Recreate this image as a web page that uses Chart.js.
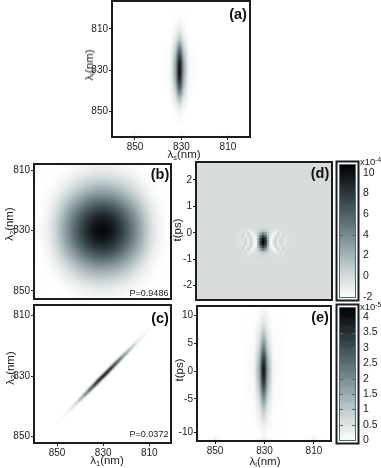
<!DOCTYPE html>
<html>
<head>
<meta charset="utf-8">
<script src="https://cdn.jsdelivr.net/npm/chart.js@4/dist/chart.umd.js"></script>
<style>
  body { margin: 0; background: #fff; width: 381px; height: 468px; overflow: hidden; position: relative; font-family: "Liberation Sans", Arial, sans-serif; color: #222; }
  canvas { position: absolute; }
  .t { position: absolute; transform: translate(-50%, -50%); white-space: nowrap; z-index: 5; }
  .lab { font-size: 11.5px; }
  .rot { transform: translate(-50%, -50%) rotate(-90deg); }
  .letter { font-size: 14.5px; font-weight: bold; color: #111; }
  .p { font-size: 9px; }
  .exp { position: absolute; font-size: 9.5px; transform: translateY(-50%); z-index: 5; }
  sub { font-size: 7.5px; vertical-align: -2px; line-height: 0; }
  sup { font-size: 6.5px; vertical-align: 3px; line-height: 0; }
</style>
</head>
<body>

<svg width="0" height="0" style="position:absolute">
  <filter id="softA" color-interpolation-filters="sRGB"><feGaussianBlur stdDeviation="1.5 3.2"/></filter>
  <filter id="softB" color-interpolation-filters="sRGB"><feGaussianBlur stdDeviation="5 6"/></filter>
  <filter id="softC" color-interpolation-filters="sRGB"><feGaussianBlur stdDeviation="1.1 1.1"/></filter>
  <filter id="softD" color-interpolation-filters="sRGB"><feGaussianBlur stdDeviation="0.7 0.7"/></filter>
  <filter id="softE" color-interpolation-filters="sRGB"><feGaussianBlur stdDeviation="1.5 4.2"/></filter>
  <filter id="softBar" color-interpolation-filters="sRGB"><feGaussianBlur stdDeviation="0 1.5"/></filter>
</svg>

<span class="t lab" style="left:184px;top:154px">λ<sub>s</sub>(nm)</span>
<span class="t lab rot" style="left:89px;top:65px">λ<sub>i</sub>(nm)</span>
<span class="t lab rot" style="left:9px;top:224px">λ<sub>2</sub>(nm)</span>
<span class="t lab rot" style="left:10px;top:368px">λ<sub>2</sub>(nm)</span>
<span class="t lab" style="left:107px;top:460px">λ<sub>1</sub>(nm)</span>
<span class="t lab rot" style="left:177px;top:230px">t(ps)</span>
<span class="t lab rot" style="left:179px;top:370px">t(ps)</span>
<span class="t lab" style="left:265px;top:461px">λ<sub>i</sub>(nm)</span>

<span class="t letter" style="left:238px;top:14px">(a)</span>
<span class="t letter" style="left:160px;top:174px">(b)</span>
<span class="t letter" style="left:160px;top:318px">(c)</span>
<span class="t letter" style="left:320px;top:173px">(d)</span>
<span class="t letter" style="left:320px;top:317px">(e)</span>

<span class="t p" style="left:149px;top:293px">P=0.9486</span>
<span class="t p" style="left:149px;top:434px">P=0.0372</span>

<span class="exp" style="left:360px;top:161px">x10<sup>-4</sup></span>
<span class="exp" style="left:360px;top:306px">x10<sup>-5</sup></span>

<script>
/**
 * Panel (a) joint spectrum, values 0..1
 */
var aCols = [836.5, 834.5, 832.5, 830.5, 828.5, 826.5, 824.5];
var aRows = [804, 808, 812, 816, 820, 824, 828, 832, 836, 840, 844, 848, 852];
var aGrid = [
  [0, 0, .01, .02, .01, 0, 0],
  [0, 0, .02, .06, .02, 0, 0],
  [0, 0, .05, .15, .05, 0, 0],
  [0, .01, .1, .3, .1, .01, 0],
  [.01, .02, .18, .6, .18, .02, .01],
  [.02, .03, .27, .85, .27, .03, .02],
  [.02, .03, .32, 1, .32, .03, .02],
  [.02, .03, .32, 1, .32, .03, .02],
  [.02, .03, .27, .85, .27, .03, .02],
  [.01, .02, .18, .6, .18, .02, .01],
  [0, .01, .1, .3, .1, .01, 0],
  [0, 0, .04, .12, .04, 0, 0],
  [0, 0, .01, .04, .01, 0, 0]
];

/**
 * Panel (b) symmetric part, values 0..1
 */
var bCols = [854, 850, 846, 842, 838, 834, 830, 826, 822, 818, 814, 810, 806];
var bRows = [806, 810, 814, 818, 822, 826, 830, 834, 838, 842, 846, 850, 854];
var bGrid = [
  [0, 0, 0, 0, 0, .01, .02, .01, 0, 0, 0, 0, 0],
  [0, 0, .01, .03, .05, .07, .08, .07, .05, .03, .01, 0, 0],
  [0, .02, .06, .12, .18, .22, .23, .22, .18, .12, .06, .02, 0],
  [.01, .06, .15, .26, .35, .41, .44, .41, .35, .26, .15, .06, .01],
  [.03, .12, .28, .42, .56, .66, .69, .66, .56, .42, .28, .12, .03],
  [.05, .18, .38, .56, .73, .86, .91, .86, .73, .56, .38, .18, .05],
  [.06, .2, .41, .61, .8, .95, 1, .95, .8, .61, .41, .2, .06],
  [.05, .18, .38, .56, .73, .86, .91, .86, .73, .56, .38, .18, .05],
  [.03, .12, .28, .42, .56, .66, .69, .66, .56, .42, .28, .12, .03],
  [.01, .06, .15, .26, .35, .41, .44, .41, .35, .26, .15, .06, .01],
  [0, .02, .06, .12, .18, .22, .23, .22, .18, .12, .06, .02, 0],
  [0, 0, .01, .03, .05, .07, .08, .07, .05, .03, .01, 0, 0],
  [0, 0, 0, 0, 0, .01, .02, .01, 0, 0, 0, 0, 0]
];

/**
 * Panel (c) antisymmetric part, the ridge of the streak
 */
var cX = [850, 848, 846, 844, 842, 840, 838, 836, 834, 832, 830, 828, 826, 824, 822, 820, 818, 816, 814, 812, 810];
var cY = [845.4, 843.9, 842.3, 840.8, 839.2, 837.7, 836.2, 834.6, 833.1, 831.5, 830, 828.5, 826.9, 825.4, 823.8, 822.3, 820.8, 819.2, 817.7, 816.1, 814.6];
var cZ = [.03, .07, .12, .2, .3, .44, .6, .75, .9, .98, 1, .98, .85, .7, .55, .42, .3, .2, .12, .07, .03];
var cWidth = [.5, .6, .7, .8, .9, 1, 1.1, 1.2, 1.3, 1.3, 1.3, 1.3, 1.3, 1.2, 1.1, 1, .9, .8, .7, .6, .5];

/**
 * Panel (d) values in 1e-4
 */
var dCols = [840, 839, 838, 837, 836, 835, 834, 833, 832, 831, 830, 829, 828, 827, 826, 825, 824, 823, 822, 821, 820];
var dRows = [.14, .04, -.06, -.16, -.26, -.36, -.46, -.56, -.66, -.76, -.86];
var dGrid = [
  [0, 0, -.1, -.3, -.3, -.2, 0, 0, .1, .2, .3, .2, .1, 0, 0, -.2, -.3, -.3, -.1, 0, 0],
  [0, -.1, -.4, .2, -.8, -1, -.3, -.1, .3, 1, 1.5, 1, .3, -.1, -.3, -1, -.8, .2, -.4, -.1, 0],
  [0, -.3, .2, -.8, .4, -1.4, -1.4, -.3, .8, 3, 4.5, 3, .8, -.3, -1.4, -1.4, .4, -.8, .2, -.3, 0],
  [-.3, -.3, .3, -.9, -.2, .2, -1.6, -1.2, 1.6, 5.5, 7.5, 5.5, 1.6, -1.2, -1.6, .2, -.2, -.9, .3, -.3, -.3],
  [0, -.4, -.3, .3, -1, .4, -1, -1.8, 2.2, 7.5, 10, 7.5, 2.2, -1.8, -1, .4, -1, .3, -.3, -.4, 0],
  [0, -.5, -.3, .3, -1.1, .5, -.8, -1.9, 2.5, 8, 10.8, 8, 2.5, -1.9, -.8, .5, -1.1, .3, -.3, -.5, 0],
  [0, -.4, -.3, .3, -1, .4, -1, -1.8, 2.2, 7.5, 10, 7.5, 2.2, -1.8, -1, .4, -1, .3, -.3, -.4, 0],
  [-.3, -.3, .3, -.9, -.2, .2, -1.6, -1.2, 1.6, 5.5, 7.5, 5.5, 1.6, -1.2, -1.6, .2, -.2, -.9, .3, -.3, -.3],
  [0, -.3, .2, -.8, .4, -1.4, -1.4, -.3, .8, 3, 4.5, 3, .8, -.3, -1.4, -1.4, .4, -.8, .2, -.3, 0],
  [0, -.1, -.4, .2, -.8, -1, -.3, -.1, .3, 1, 1.5, 1, .3, -.1, -.3, -1, -.8, .2, -.4, -.1, 0],
  [0, 0, -.1, -.3, -.3, -.2, 0, 0, .1, .2, .3, .2, .1, 0, 0, -.2, -.3, -.3, -.1, 0, 0]
];

/**
 * Panel (e) values in 1e-5
 */
var eCols = [836, 834, 832, 830, 828, 826, 824];
var eRows = [12, 10, 8, 6, 4, 2, 0, -2, -4, -6, -8, -10, -12];
var eGrid = [
  [0, 0, .02, .05, .02, 0, 0],
  [0, 0, .08, .25, .08, 0, 0],
  [0, .02, .2, .7, .2, .02, 0],
  [.03, .04, .42, 1.4, .42, .04, .03],
  [.05, .07, .72, 2.4, .72, .07, .05],
  [.07, .1, 1.1, 3.6, 1.1, .1, .07],
  [.08, .12, 1.3, 4.3, 1.3, .12, .08],
  [.07, .1, 1.1, 3.7, 1.1, .1, .07],
  [.05, .08, .78, 2.6, .78, .08, .05],
  [.03, .05, .45, 1.5, .45, .05, .03],
  [0, .02, .24, .8, .24, .02, 0],
  [0, 0, .09, .3, .09, 0, 0],
  [0, 0, .02, .05, .02, 0, 0]
];

/**
 * Colorbars and tick labels
 */
var dBarLevels = [-2.5, -2, -1.5, -1, -.5, 0, .5, 1, 1.5, 2, 2.5, 3, 3.5, 4, 4.5, 5, 5.5, 6, 6.5, 7, 7.5, 8, 8.5, 9, 9.5, 10, 10.5];
var dBarTicks = [10, 8, 6, 4, 2, 0, -2];
var dBarMarks = [4, -2];
var eBarLevels = [-.25, 0, .25, .5, .75, 1, 1.25, 1.5, 1.75, 2, 2.25, 2.5, 2.75, 3, 3.25, 3.5, 3.75, 4, 4.25];
var eBarTicks = [4, 3.5, 3, 2.5, 2, 1.5, 1, .5, 0];
var eBarMarks = [3.5, 3, 2.5, 2, 1.5, 1, .5, 0];

var lambdaTicks = [850, 830, 810];
var lambdaTicksY = [810, 830, 850];
var dTimeTicks = [2, 1, 0, -1, -2];
var eTimeTicks = [10, 5, 0, -5, -11];
var eTimeLabels = ['10', '5', '0', '-5', '-10'];

/**
 * Colormap of the figure: white over a teal grey to black, t in 0..1
 */
var rampStops = [
  [0, 255, 255, 255],
  [.16, 215, 222, 220],
  [.25, 185, 200, 203],
  [.5, 112, 132, 137],
  [.75, 50, 65, 70],
  [1, 0, 0, 0]
];

function ramp(t) {
  t = Math.max(0, Math.min(1, t));
  for (var i = 1; i < rampStops.length; i++) {
    if (t <= rampStops[i][0]) {
      var a = rampStops[i - 1], b = rampStops[i];
      var f = (t - a[0]) / (b[0] - a[0]);
      return 'rgb(' + Math.round(a[1] + (b[1] - a[1]) * f) + ',' + Math.round(a[2] + (b[2] - a[2]) * f) + ',' + Math.round(a[3] + (b[3] - a[3]) * f) + ')';
    }
  }
  return 'rgb(0,0,0)';
}

/**
 * Background, soft focus of the heat map and the black frame
 */
var panelPlugin = {
  id: 'panel',
  beforeDatasetsDraw: function (chart, args, opts) {
    var a = chart.chartArea, ctx = chart.ctx;
    ctx.save();
    ctx.fillStyle = opts.bg;
    ctx.fillRect(a.left, a.top, a.right - a.left, a.bottom - a.top);
    ctx.restore();
  },
  afterDatasetsDraw: function (chart, args, opts) {
    var a = chart.chartArea, ctx = chart.ctx;
    ctx.save();
    ctx.beginPath();
    ctx.rect(a.left, a.top, a.right - a.left, a.bottom - a.top);
    ctx.clip();
    ctx.filter = 'url(#' + opts.soft + ')';
    ctx.drawImage(chart.canvas, 0, 0);
    ctx.restore();
  },
  afterDraw: function (chart, args, opts) {
    var a = chart.chartArea, ctx = chart.ctx, s = opts.inset;
    ctx.save();
    if (opts.marks) {
      ctx.strokeStyle = '#4d6a72';
      ctx.lineWidth = 1;
      ctx.strokeRect(a.left + .5, a.top + .5, a.right - a.left - 1, a.bottom - a.top - 1);
      opts.marks.forEach(function (v) {
        var y = Math.round(chart.scales.y.getPixelForValue(v)) + .5;
        ctx.beginPath();
        ctx.moveTo(a.left, y);
        ctx.lineTo(a.left + 4, y);
        ctx.moveTo(a.right - 4, y);
        ctx.lineTo(a.right, y);
        ctx.stroke();
      });
    }
    ctx.strokeStyle = '#1c1c1c';
    ctx.lineWidth = 2;
    ctx.strokeRect(a.left - s, a.top - s, a.right - a.left + 2 * s, a.bottom - a.top + 2 * s);
    ctx.restore();
  }
};

function gridCells(cols, rows, grid) {
  var out = [];
  var rowStep = Math.abs(rows[1] - rows[0]);
  for (var r = 0; r < rows.length; r++) {
    for (var c = 0; c < cols.length; c++) {
      out.push({ x: cols[c], y: [rows[r] - rowStep / 2, rows[r] + rowStep / 2], z: grid[r][c] });
    }
  }
  return out;
}

function axisTicks(values, labels) {
  return {
    afterBuildTicks: function (scale) {
      scale.ticks = values.map(function (v) { return { value: v }; });
    },
    callback: function (v, i) { return labels ? labels[i] : v; }
  };
}

/**
 * Create one canvas + chart. p holds the plot box in page pixels and the margins round it
 */
function panel(p) {
  var m = p.margin;
  var cv = document.createElement('canvas');
  cv.width = p.x1 - p.x0 + m.l + m.r;
  cv.height = p.y1 - p.y0 + m.t + m.b;
  cv.style.left = (p.x0 - m.l) + 'px';
  cv.style.top = (p.y0 - m.t) + 'px';
  document.body.appendChild(cv);

  var tickFont = { family: '"Liberation Sans", Arial, sans-serif', size: p.yRight ? 10.5 : 10 };
  var xt = p.xTicks ? axisTicks(p.xTicks) : null;
  var yt = axisTicks(p.yTicks, p.yLabels);

  new Chart(cv.getContext('2d'), {
    type: p.type || 'bar',
    data: { datasets: p.datasets },
    plugins: [panelPlugin],
    options: {
      responsive: false,
      animation: false,
      events: [],
      layout: { padding: { top: m.t, left: p.yRight ? m.l : 0, right: p.yRight ? 0 : m.r, bottom: 0 } },
      plugins: {
        legend: { display: false },
        tooltip: { enabled: false },
        panel: { bg: p.bg || '#fff', soft: p.soft, inset: p.inset || 0, marks: p.marks || null }
      },
      scales: {
        x: {
          type: 'linear',
          offset: false,
          reverse: true,
          min: p.xMin,
          max: p.xMax,
          afterFit: function (s) { s.height = m.b; s.paddingLeft = 0; s.paddingRight = 0; },
          afterBuildTicks: xt ? xt.afterBuildTicks : undefined,
          border: { display: false },
          grid: { display: !!xt, offset: false, drawOnChartArea: false, tickLength: 3, tickColor: '#222' },
          ticks: { display: !!xt, font: tickFont, color: '#222', padding: 1, maxRotation: 0, autoSkip: false, callback: xt ? xt.callback : undefined }
        },
        y: {
          type: 'linear',
          position: p.yRight ? 'right' : 'left',
          reverse: !!p.yReverse,
          min: p.yMin,
          max: p.yMax,
          afterFit: function (s) { s.width = p.yRight ? m.r : m.l; s.paddingTop = 0; s.paddingBottom = 0; },
          afterBuildTicks: yt.afterBuildTicks,
          border: { display: false },
          grid: { display: !p.yRight, drawOnChartArea: false, tickLength: 3, tickColor: '#222' },
          ticks: { font: tickFont, color: '#222', padding: p.yRight ? 4 : 1, crossAlign: 'near', autoSkip: false, callback: yt.callback }
        }
      }
    }
  });
}

function heatDataset(cols, rows, grid, thickness, lo, hi) {
  var cells = gridCells(cols, rows, grid);
  return {
    data: cells,
    backgroundColor: cells.map(function (c) { return ramp((c.z - lo) / (hi - lo)); }),
    borderWidth: 0,
    barThickness: thickness,
    inflateAmount: .6
  };
}

function barDataset(levels, lo, hi, thickness) {
  var step = levels[1] - levels[0];
  var cells = levels.map(function (v) { return { x: .5, y: [v, v + step] }; });
  return {
    data: cells,
    backgroundColor: levels.map(function (v) { return ramp((v + step / 2 - lo) / (hi - lo)); }),
    borderWidth: 0,
    barThickness: thickness,
    inflateAmount: .6
  };
}

/**
 * (a)
 */
panel({
  x0: 112, x1: 250, y0: 1, y1: 137,
  margin: { l: 32, r: 2, t: 1, b: 17 },
  xMin: 800.5, xMax: 859.9, yMin: 796.5, yMax: 862.2, yReverse: true,
  xTicks: lambdaTicks, yTicks: lambdaTicksY, soft: 'softA',
  datasets: [heatDataset(aCols, aRows, aGrid, 5, 0, 1)]
});

/**
 * (b)
 */
panel({
  x0: 34, x1: 171, y0: 164, y1: 299,
  margin: { l: 32, r: 2, t: 2, b: 2 },
  xMin: 800.6, xMax: 860, yMin: 807.8, yMax: 852.7, yReverse: true,
  yTicks: lambdaTicksY, soft: 'softB',
  datasets: [heatDataset(bCols, bRows, bGrid, 10, 0, 1)]
});

/**
 * (c), the streak is one line with a width along it
 */
var cPixelsPerNm = 2.31;
panel({
  x0: 34, x1: 171, y0: 305, y1: 443,
  margin: { l: 32, r: 2, t: 2, b: 17 },
  type: 'line',
  xMin: 800.6, xMax: 860, yMin: 806.5, yMax: 852.1, yReverse: true,
  xTicks: lambdaTicks, yTicks: lambdaTicksY, soft: 'softC',
  datasets: [{
    data: cX.map(function (x, i) { return { x: x, y: cY[i] }; }),
    pointRadius: 0,
    borderColor: ramp(.5),
    borderCapStyle: 'round',
    segment: {
      borderColor: function (ctx) { return ramp(cZ[ctx.p0DataIndex]); },
      borderWidth: function (ctx) { return cWidth[ctx.p0DataIndex] * cPixelsPerNm; }
    }
  }]
});

/**
 * (d)
 */
panel({
  x0: 196, x1: 332, y0: 162, y1: 300,
  margin: { l: 32, r: 2, t: 2, b: 2 },
  xMin: 802.5, xMax: 857.5, yMin: -2.54, yMax: 2.68,
  yTicks: dTimeTicks, soft: 'softD', bg: ramp(2.13 / 13),
  datasets: [heatDataset(dCols, dRows, dGrid, 3, -2.13, 10.87)]
});

/**
 * (e)
 */
panel({
  x0: 197, x1: 331, y0: 306, y1: 441,
  margin: { l: 32, r: 2, t: 2, b: 17 },
  xMin: 803.1, xMax: 857.3, yMin: -12.57, yMax: 11.74,
  xTicks: lambdaTicks, yTicks: eTimeTicks, yLabels: eTimeLabels, soft: 'softE',
  datasets: [heatDataset(eCols, eRows, eGrid, 5.5, -.03, 4.33)]
});

/**
 * Colorbars
 */
panel({
  x0: 339, x1: 356, y0: 164, y1: 298,
  margin: { l: 4, r: 25, t: 4, b: 6 },
  yRight: true, inset: 2.5, marks: dBarMarks,
  xMin: 0, xMax: 1, yMin: -2.13, yMax: 10.87,
  yTicks: dBarTicks, soft: 'softBar',
  datasets: [barDataset(dBarLevels, -2.13, 10.87, 20)]
});

panel({
  x0: 339, x1: 356, y0: 307, y1: 441,
  margin: { l: 5, r: 25, t: 4, b: 6 },
  yRight: true, inset: 2.5, marks: eBarMarks,
  xMin: 0, xMax: 1, yMin: -.03, yMax: 4.33,
  yTicks: eBarTicks, soft: 'softBar',
  datasets: [barDataset(eBarLevels, -.03, 4.33, 20)]
});
</script>
</body>
</html>
